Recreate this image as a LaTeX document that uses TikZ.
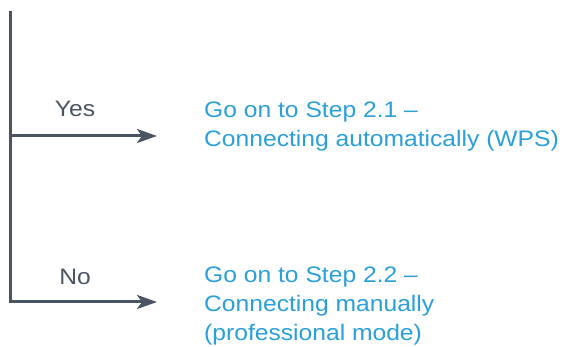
\documentclass[tikz,border=0pt]{standalone}
\usepackage{fontspec}
\setmainfont{Liberation Sans}[FakeStretch=1.1]
\usetikzlibrary{arrows.meta,positioning}
\definecolor{slate}{HTML}{4A5563}
\definecolor{sky}{HTML}{2A9FD8}
\tikzset{
	flow/.style={draw=slate, line width=3pt},
	post/.style={flow, -{Stealth[length=20pt, width=14pt, inset=5pt]}},
	answer/.style={text=slate, anchor=base, font=\fontsize{22.4}{29}\selectfont},
	target/.style={text=sky, anchor=base west, align=left, inner sep=0pt, font=\fontsize{22.4}{29}\selectfont}
}
\begin{document}
\begin{tikzpicture}[x=1pt, y=1pt]
	\useasboundingbox (0, 0) rectangle (565, 347);
	\coordinate (Top)		at (10, 336);
	\coordinate (YesFork)	at (10, 211);
	\coordinate (NoFork)	at (10, 45);
	\coordinate (YesEnd)	at (157, 211);
	\coordinate (NoEnd)		at (157, 45);
	\node [answer]	(Yes)	at (75, 230) {Yes};
	\node [answer]	(No)	at (75, 62) {No};
	\node [target]	(StepWPS)		at (204, 200) {Go on to Step 2.1 –\\Connecting automatically (WPS)};
	\node [target]	(StepManual)	at (204, 6) {Go on to Step 2.2 –\\Connecting manually\\(professional mode)};
	\draw [post] (Top) -- (NoFork) -- (NoEnd);
	\draw [post] (YesFork) -- (YesEnd);
\end{tikzpicture}
\end{document}
